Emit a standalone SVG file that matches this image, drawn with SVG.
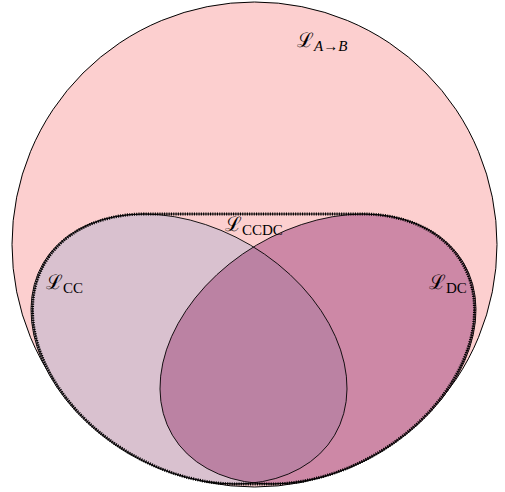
<svg xmlns="http://www.w3.org/2000/svg" width="505" height="492" viewBox="0 0 505 492">
<style>
.L{font-family:"DejaVu Serif",serif;font-size:20px;fill:#000}
.sub{font-family:"Liberation Serif",serif;font-size:15px;fill:#000}
.it{font-style:italic}
.edge{fill:none;stroke:#000;stroke-width:0.8}
</style>
<defs>
<clipPath id="ccClip"><ellipse cx="0" cy="0" rx="169.2" ry="120.7" transform="translate(189,349) rotate(30.67)"/></clipPath>
</defs>
<g id="LAB">
<circle cx="254.5" cy="244.5" r="242.5" fill="#fccfcf" stroke="#000" stroke-width="1"/>
</g>
<g id="LCC">
<ellipse cx="0" cy="0" rx="169.2" ry="120.7" transform="translate(189,349) rotate(30.67)" fill="#d9c1cf"/>
</g>
<g id="LDC">
<ellipse cx="0" cy="0" rx="169.2" ry="120.7" transform="translate(318,349) rotate(-30.67)" fill="#cd88a6"/>
</g>
<g id="overlap">
<g clip-path="url(#ccClip)">
<ellipse cx="0" cy="0" rx="169.2" ry="120.7" transform="translate(318,349) rotate(-30.67)" fill="#bb82a3"/>
</g>
<ellipse class="edge" cx="0" cy="0" rx="169.2" ry="120.7" transform="translate(189,349) rotate(30.67)"/>
<ellipse class="edge" cx="0" cy="0" rx="169.2" ry="120.7" transform="translate(318,349) rotate(-30.67)"/>
</g>
<g id="LCCDC">
<path d="M143.31,214 L363.69,214 A169.2 120.7 -30.67 0 1 272.31,484 L234.69,484 A169.2 120.7 30.67 0 1 143.31,214 Z" fill="none" stroke="#000" stroke-width="0.8"/>
<path d="M143.31,214 L363.69,214 A169.2 120.7 -30.67 0 1 272.31,484 L234.69,484 A169.2 120.7 30.67 0 1 143.31,214 Z" fill="none" stroke="#000" stroke-width="3" stroke-dasharray="1.1 1.2"/>
</g>
<g id="labels">
<text x="297" y="47"><tspan class="L">ℒ</tspan><tspan class="sub it" dy="4">A</tspan><tspan class="sub">→</tspan><tspan class="sub it">B</tspan></text>
<text x="225" y="231"><tspan class="L">ℒ</tspan><tspan class="sub" dy="4">CCDC</tspan></text>
<text x="46" y="289"><tspan class="L">ℒ</tspan><tspan class="sub" dy="4">CC</tspan></text>
<text x="429" y="289"><tspan class="L">ℒ</tspan><tspan class="sub" dy="4">DC</tspan></text>
</g>
<g id="connectors"/>
</svg>
